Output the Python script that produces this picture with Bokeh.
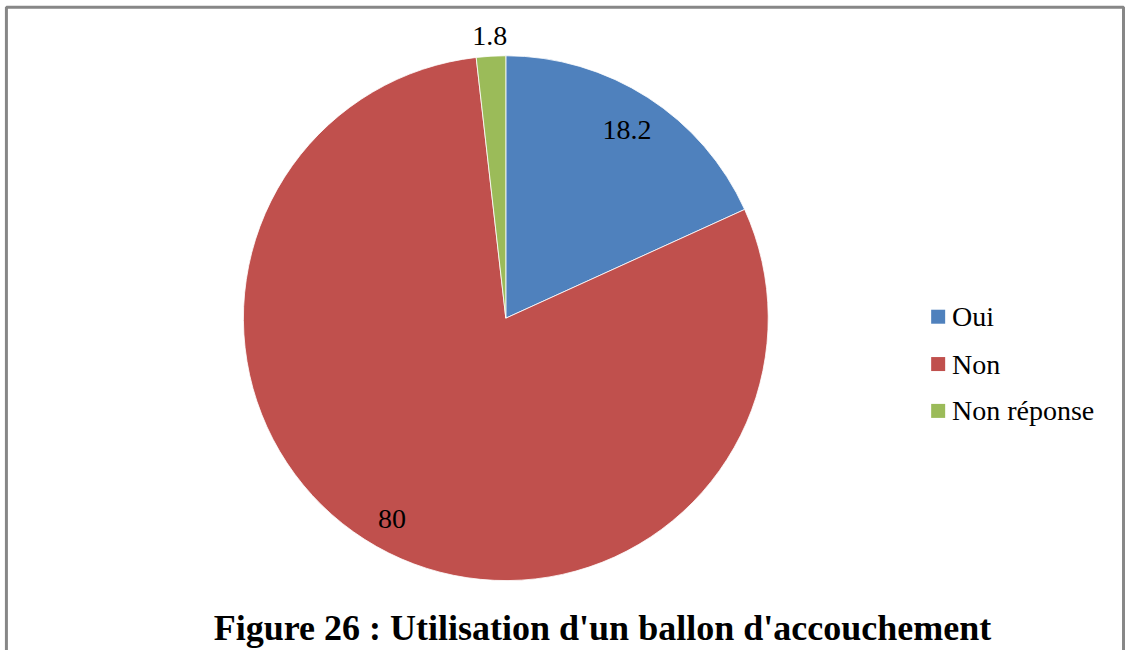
import numpy as np
from bokeh.plotting import figure
from bokeh.models import Range1d, ColumnDataSource
from bokeh.core.properties import value
from bokeh.embed import file_html
from bokeh.resources import INLINE

# ---- data ----
categories = ["Oui", "Non", "Non réponse"]
percentages = [18.2, 80.0, 1.8]
value_labels = ["18.2", "80", "1.8"]
title_text = "Figure 26 : Utilisation d'un ballon d'accouchement"

# ---- style ----
colors = ["#4F81BD", "#C0504D", "#9BBB59"]
label_radius_factor = [0.853, 0.88, 1.077]
W, H = 1125, 650
RW, RH = 1141, 666  # reference picture size
SX, SY = W / RW, H / RH


def px(x):
    return x * SX


def py(y):
    return H - y * SY


cx, cy = px(512.5), py(325.5)
r = 267.5 * (SX + SY) / 2

p = figure(width=W, height=H, output_backend="svg", toolbar_location=None,
           x_range=Range1d(0, W), y_range=Range1d(0, H),
           min_border=0, match_aspect=False)
p.axis.visible = False
p.grid.visible = False
p.outline_line_color = None
p.background_fill_color = "white"
p.border_fill_color = "white"

vals = np.array(percentages, dtype=float)
frac = vals / vals.sum()
cum = np.concatenate([[0.0], np.cumsum(frac)])
start = np.pi / 2 - cum[:-1] * 2 * np.pi
end = np.pi / 2 - cum[1:] * 2 * np.pi
mid = (start + end) / 2

src = ColumnDataSource(dict(start=start, end=end, color=colors))
p.wedge(x=cx, y=cy, radius=r, start_angle="start", end_angle="end",
        direction="clock", fill_color="color", line_color="white",
        line_width=0.8, source=src)

lab_x = cx + np.array(label_radius_factor) * r * np.cos(mid)
lab_y = cy + np.array(label_radius_factor) * r * np.sin(mid)
p.text(x=lab_x, y=lab_y, text=value_labels, text_font=value("Liberation Serif"),
       text_font_size="28px", text_align="center", text_baseline="middle",
       text_color="black")

# legend (manual)
leg_y = [py(324), py(372.5), py(420.5)]
p.rect(x=[px(951)] * 3, y=leg_y, width=14, height=14, fill_color=colors,
       line_color=None)
p.text(x=[px(965)] * 3, y=leg_y, text=categories,
       text_font=value("Liberation Serif"), text_font_size="28px",
       text_align="left", text_baseline="middle", text_color="black")

# title
p.text(x=[px(610.5)], y=[py(643)], text=[title_text],
       text_font=value("Liberation Serif"), text_font_style="bold",
       text_font_size="36px", text_align="center",
       text_baseline="middle", text_color="black")

# frame border (top, left, right)
bc = "#878787"
p.line(x=[px(6), px(6), px(1139), px(1139)], y=[0, py(7), py(7), 0],
       line_color=bc, line_width=3)

open("out.html", "w").write(file_html(p, INLINE))
